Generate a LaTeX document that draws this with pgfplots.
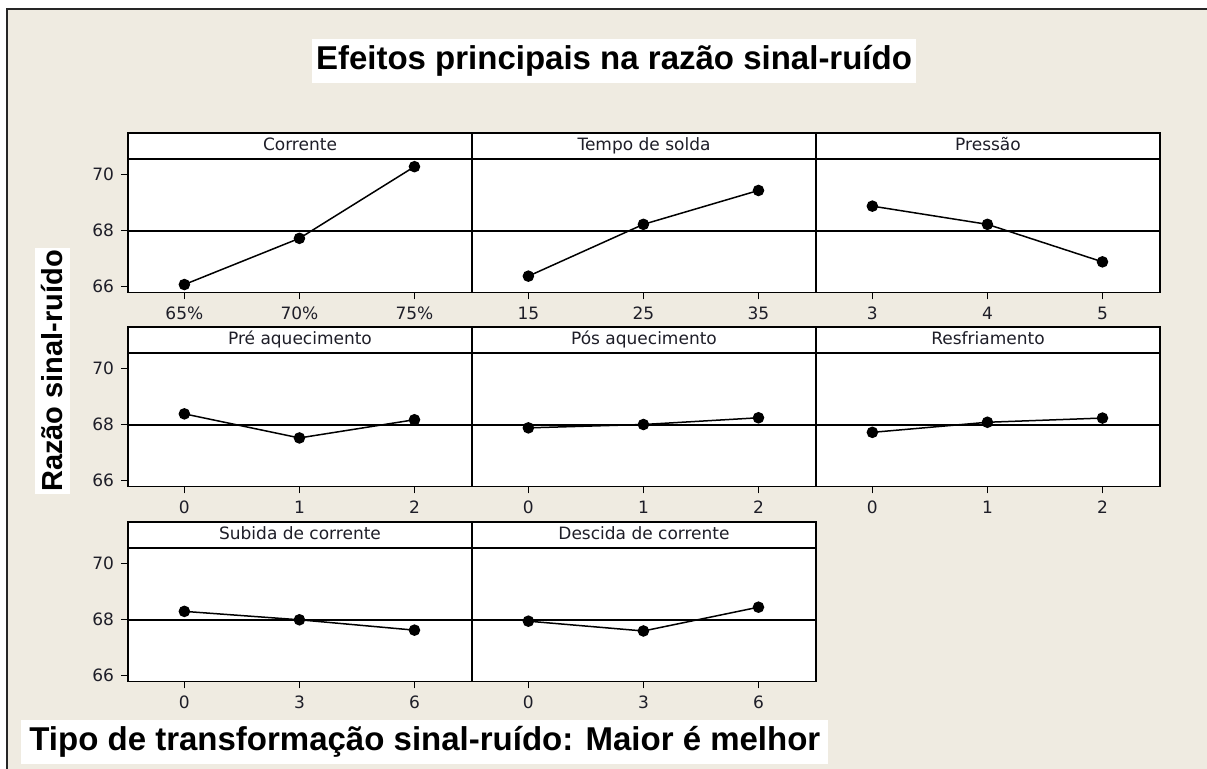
\documentclass[border=0pt]{standalone}
\usepackage{pgfplots}
\pgfplotsset{compat=1.18}
\usepackage{fontspec}
\setmainfont{DejaVu Sans}
\newfontfamily\arialf{Liberation Sans}
\definecolor{bg}{RGB}{239,235,225}
\definecolor{txt}{RGB}{30,30,40}

% one panel = 344 x 133 px, 1 px = 0.5 pt
\pgfplotsset{
  panel/.style={
    scale only axis, width=172pt, height=66.5pt,
    anchor=north west,
    xmin=-0.49, xmax=2.5, ymin=65.786, ymax=70.536,
    xtick={0,1,2}, ytick=\empty,
    xtick pos=left, ytick pos=left,
    tick align=outside,
    major tick length=3.5pt,
    every tick/.style={black, line width=0.6pt},
    axis line style={line width=0.8pt},
    axis background/.style={fill=white},
    ticklabel style={font=\fontsize{8.5}{10}\selectfont, text=txt},
    xticklabel style={text height=6.3pt, text depth=0.5pt},
    every axis title/.style={at={(0.5,1)}, anchor=south, draw=black, line width=0.8pt,
      fill=white, minimum width=172pt, minimum height=12.75pt, inner sep=0pt,
      text height=6.5pt, text depth=1.8pt,
      font=\fontsize{8.5}{10}\selectfont, text=txt},
  },
  firstcol/.style={ytick={66,68,70}, yticklabels={66,68,70}},
  meanline/.style={black, line width=0.6pt, forget plot},
  effect/.style={black, line width=0.75pt, mark=*, mark size=2.5pt},
}

\begin{document}
\begin{tikzpicture}
\useasboundingbox (0,0) rectangle (603.5pt,-384.5pt);
\fill[white] (0,0) rectangle (603.5pt,-384.5pt);
\fill[bg] (3.5pt,-4.5pt) rectangle (603.5pt,-384.5pt);
\draw[line width=1pt, black!85] (3.5pt,-384.5pt) |- (603.5pt,-4.5pt);

\node[fill=white, inner xsep=2pt, minimum height=20pt, font=\arialf\bfseries\fontsize{16.5}{18}\selectfont]
  at (307pt,-30.5pt) {Efeitos principais na razão sinal-ruído};
\node[fill=white, rotate=90, inner xsep=1pt, minimum height=17.5pt, font=\arialf\bfseries\fontsize{14.5}{16}\selectfont]
  at (26.25pt,-185.5pt) {Razão sinal-ruído};
\node[fill=white, anchor=west, inner xsep=4pt, minimum height=16pt, font=\arialf\bfseries\fontsize{16.5}{18}\selectfont]
  at (10.5pt,-371pt) {Tipo de transformação sinal-ruído: Maior é melhor};

% row 1
\begin{axis}[panel, firstcol, at={(64pt,-79.75pt)}, title={Corrente}, xticklabels={65\%,70\%,75\%}]
\addplot[meanline] coordinates {(-0.49,67.98) (2.5,67.98)};
\addplot[effect] coordinates {(0,66.07) (1,67.72) (2,70.28)};
\end{axis}
\begin{axis}[panel, at={(236pt,-79.75pt)}, title={Tempo de solda}, xticklabels={15,25,35}]
\addplot[meanline] coordinates {(-0.49,67.98) (2.5,67.98)};
\addplot[effect] coordinates {(0,66.37) (1,68.22) (2,69.43)};
\end{axis}
\begin{axis}[panel, at={(408pt,-79.75pt)}, title={Pressão}, xticklabels={3,4,5}]
\addplot[meanline] coordinates {(-0.49,67.98) (2.5,67.98)};
\addplot[effect] coordinates {(0,68.87) (1,68.22) (2,66.88)};
\end{axis}

% row 2
\begin{axis}[panel, firstcol, at={(64pt,-176.75pt)}, title={Pré aquecimento}, xticklabels={0,1,2}]
\addplot[meanline] coordinates {(-0.49,67.98) (2.5,67.98)};
\addplot[effect] coordinates {(0,68.38) (1,67.52) (2,68.17)};
\end{axis}
\begin{axis}[panel, at={(236pt,-176.75pt)}, title={Pós aquecimento}, xticklabels={0,1,2}]
\addplot[meanline] coordinates {(-0.49,67.98) (2.5,67.98)};
\addplot[effect] coordinates {(0,67.88) (1,68.00) (2,68.24)};
\end{axis}
\begin{axis}[panel, at={(408pt,-176.75pt)}, title={Resfriamento}, xticklabels={0,1,2}]
\addplot[meanline] coordinates {(-0.49,67.98) (2.5,67.98)};
\addplot[effect] coordinates {(0,67.72) (1,68.08) (2,68.23)};
\end{axis}

% row 3
\begin{axis}[panel, firstcol, at={(64pt,-274.25pt)}, title={Subida de corrente}, xticklabels={0,3,6}]
\addplot[meanline] coordinates {(-0.49,67.98) (2.5,67.98)};
\addplot[effect] coordinates {(0,68.29) (1,67.99) (2,67.62)};
\end{axis}
\begin{axis}[panel, at={(236pt,-274.25pt)}, title={Descida de corrente}, xticklabels={0,3,6}]
\addplot[meanline] coordinates {(-0.49,67.98) (2.5,67.98)};
\addplot[effect] coordinates {(0,67.94) (1,67.59) (2,68.44)};
\end{axis}
\end{tikzpicture}
\end{document}
